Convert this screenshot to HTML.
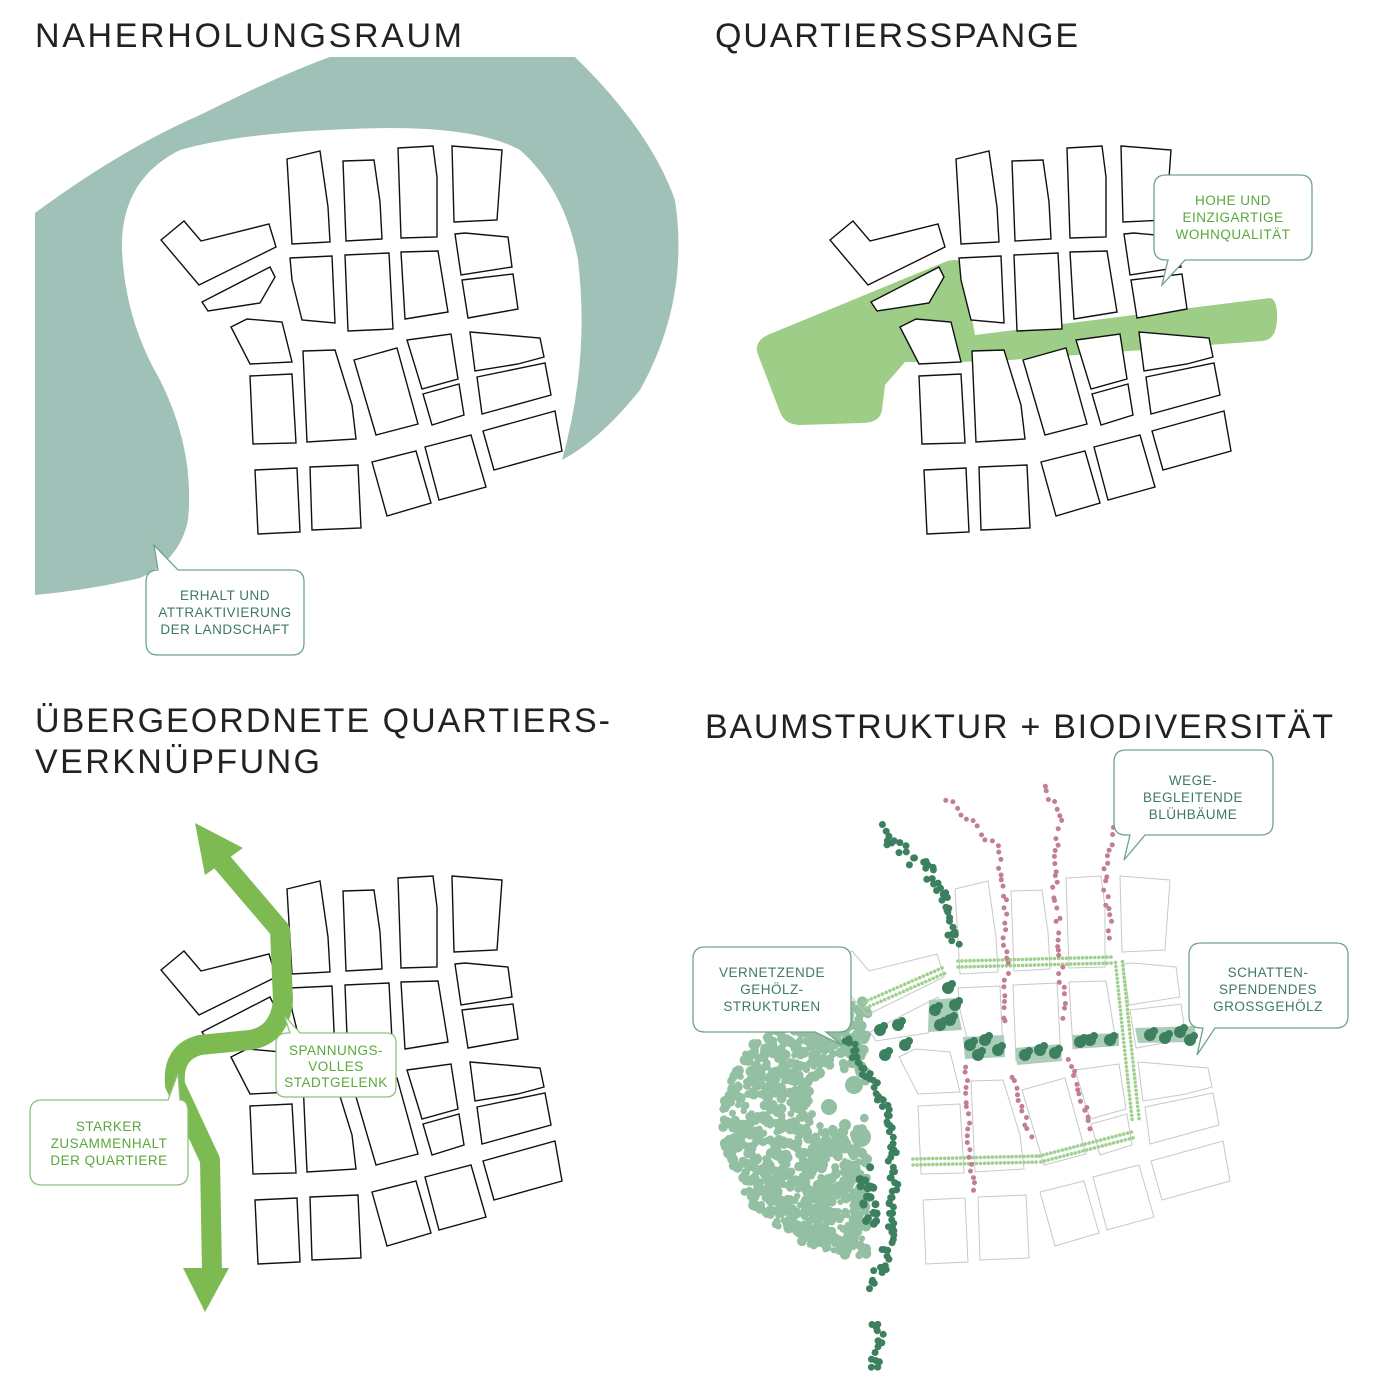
<!DOCTYPE html>
<html><head><meta charset="utf-8"><style>
html,body{margin:0;padding:0;background:#fff}
svg{display:block}
.t{font-family:"Liberation Sans",sans-serif;font-size:34px;fill:#222;font-weight:normal}
.c{font-family:"Liberation Sans",sans-serif;font-size:13.5px;fill:#3d7a62;text-anchor:middle;letter-spacing:0.5px}
.cg{font-family:"Liberation Sans",sans-serif;font-size:13.5px;fill:#5aa83a;text-anchor:middle;letter-spacing:0.5px}
</style></head><body>
<svg id="s" width="1380" height="1380" viewBox="0 0 1380 1380" xmlns="http://www.w3.org/2000/svg">
<defs>
<g id="blk">
<polygon points="287,159 320,151 328,207 330,242 292,244"/>
<polygon points="343,161 374,160 380,202 382,239 346,241"/>
<polygon points="398,148 433,146 437,177 437,237 401,238"/>
<polygon points="452,146 502,150 497,220 454,222"/>
<polygon points="161,240 184,221 201,241 269,224 276,247 199,285"/>
<polygon points="202,302 270,267 275,277 260,303 208,311"/>
<polygon points="290,258 332,256 335,323 302,320 292,280"/>
<polygon points="345,255 389,253 393,329 348,331"/>
<polygon points="401,252 438,251 448,312 405,319"/>
<polygon points="455,234 465,233 508,237 512,267 461,275"/>
<polygon points="462,280 513,274 518,309 468,318"/>
<polygon points="231,327 247,319 282,322 292,362 250,364"/>
<polygon points="303,351 335,350 352,405 356,439 307,442"/>
<polygon points="354,360 397,348 418,424 376,435"/>
<polygon points="407,340 451,334 458,379 422,389"/>
<polygon points="470,332 540,338 544,357 518,364 475,371"/>
<polygon points="423,394 459,384 464,415 432,425"/>
<polygon points="477,377 545,363 551,395 482,414"/>
<polygon points="250,376 292,374 296,443 253,444"/>
<polygon points="255,470 297,468 300,532 258,534"/>
<polygon points="310,467 358,465 361,528 312,530"/>
<polygon points="372,462 416,451 431,503 387,516"/>
<polygon points="425,447 471,435 486,487 439,500"/>
<polygon points="483,431 555,411 562,451 494,470"/>
</g>
</defs>

<!-- TL -->
<path d="M35,213 Q120,150 200,115 Q280,75 330,57 L575,57 Q650,130 675,200 Q690,300 640,390 Q600,440 562,460 Q590,360 578,260 Q565,190 520,150 Q480,128 390,128 Q250,130 180,150 Q120,180 122,250 Q125,320 160,380 Q195,450 188,520 Q180,560 140,578 Q90,590 35,595 Z" fill="#a0c1b8"/>
<use href="#blk" fill="#fff" stroke="#111" stroke-width="1.4"/>
<text class="t" x="35" y="47" textLength="427">NAHERHOLUNGSRAUM</text>

<!-- TR -->
<text class="t" x="715" y="47" textLength="363">QUARTIERSSPANGE</text>
<path d="M757,352 Q755,340 770,334 L945,262 Q955,258 962,262 L975,335 L1270,298 Q1278,300 1277,320 Q1276,340 1262,341 L1010,360 L960,362 L905,362 L885,385 L882,410 Q880,423 862,423 L800,425 Q785,425 780,412 Z" fill="#9dcd87"/>
<use href="#blk" transform="translate(669,0)" fill="#fff" stroke="#111" stroke-width="1.4"/>

<!-- BL -->
<text class="t" x="35" y="732" textLength="575">ÜBERGEORDNETE QUARTIERS-</text>
<text class="t" x="35" y="773" textLength="285">VERKNÜPFUNG</text>
<use href="#blk" transform="translate(0,730)" fill="#fff" stroke="#111" stroke-width="1.4"/>
<path d="M222,862 L280,930 L283,1000 Q280,1035 250,1040 L200,1045 Q172,1052 175,1085 L210,1160 L212,1272" fill="none" stroke="#7dba52" stroke-width="20" stroke-linejoin="round"/>
<polygon points="195,823 243,848 205,875" fill="#7dba52"/>
<polygon points="183,1268 229,1268 205,1312" fill="#7dba52"/>

<!-- BR -->
<text class="t" x="705" y="738" textLength="628">BAUMSTRUKTUR + BIODIVERSITÄT</text>
<g id="dots"></g>
<use href="#blk" transform="translate(668,730)" fill="none" stroke="#c8c8c8" stroke-width="1"/>
<g id="dots2"></g>

<!-- callouts -->
<g fill="#fff" stroke="#6fa487" stroke-width="1.3">
<path d="M158,570 L154,545 L178,570 L292,570 Q304,570 304,582 L304,643 Q304,655 292,655 L158,655 Q146,655 146,643 L146,582 Q146,570 158,570 Z"/>
<path d="M1166,175 L1300,175 Q1312,175 1312,187 L1312,248 Q1312,260 1300,260 L1185,260 L1162,285 L1168,260 L1166,260 Q1154,260 1154,248 L1154,187 Q1154,175 1166,175 Z"/>
<path d="M1126,750 L1261,750 Q1273,750 1273,762 L1273,823 Q1273,835 1261,835 L1145,835 L1124,860 L1130,835 L1126,835 Q1114,835 1114,823 L1114,762 Q1114,750 1126,750 Z"/>
<path d="M705,947 L839,947 Q851,947 851,959 L851,1020 Q851,1032 839,1032 L826,1032 L842,1045 L815,1032 L705,1032 Q693,1032 693,1020 L693,959 Q693,947 705,947 Z"/>
<path d="M1201,943 L1336,943 Q1348,943 1348,955 L1348,1016 Q1348,1028 1336,1028 L1215,1028 L1197,1055 L1203,1028 L1201,1028 Q1189,1028 1189,1016 L1189,955 Q1189,943 1201,943 Z"/>
</g>
<g fill="#fff" stroke="#8cc47a" stroke-width="1.3">
<path d="M42,1100 L168,1100 L178,1073 L180,1100 Q188,1100 188,1112 L188,1173 Q188,1185 176,1185 L42,1185 Q30,1185 30,1173 L30,1112 Q30,1100 42,1100 Z"/>
<path d="M288,1033 L290,1033 L284,1015 L300,1033 L386,1033 Q396,1033 396,1043 L396,1087 Q396,1097 386,1097 L286,1097 Q276,1097 276,1087 L276,1043 Q276,1033 288,1033 Z"/>
</g>
<text class="c" x="225" y="600">ERHALT UND</text><text class="c" x="225" y="617">ATTRAKTIVIERUNG</text><text class="c" x="225" y="634">DER LANDSCHAFT</text>
<text class="cg" x="1233" y="205">HOHE UND</text><text class="cg" x="1233" y="222">EINZIGARTIGE</text><text class="cg" x="1233" y="239">WOHNQUALITÄT</text>
<text class="c" x="1193" y="785">WEGE-</text><text class="c" x="1193" y="802">BEGLEITENDE</text><text class="c" x="1193" y="819">BLÜHBÄUME</text>
<text class="c" x="772" y="977">VERNETZENDE</text><text class="c" x="772" y="994">GEHÖLZ-</text><text class="c" x="772" y="1011">STRUKTUREN</text>
<text class="c" x="1268" y="977">SCHATTEN-</text><text class="c" x="1268" y="994">SPENDENDES</text><text class="c" x="1268" y="1011">GROSSGEHÖLZ</text>
<text class="cg" x="109" y="1131">STARKER</text><text class="cg" x="109" y="1148">ZUSAMMENHALT</text><text class="cg" x="109" y="1165">DER QUARTIERE</text>
<text class="cg" x="336" y="1055">SPANNUNGS-</text><text class="cg" x="336" y="1071">VOLLES</text><text class="cg" x="336" y="1087">STADTGELENK</text>
</svg>
<script>
(function(){
var seed=7;function r(){seed=(seed*16807)%2147483647;return (seed-1)/2147483646;}
var out=[],out2=[];
function c(a,x,y,rad,col){a.push('<circle cx="'+x.toFixed(1)+'" cy="'+y.toFixed(1)+'" r="'+rad+'" fill="'+col+'"/>');}
function line(a,pts,step,jit,rad,col,dbl){
 for(var i=0;i<pts.length-1;i++){var p=pts[i],q=pts[i+1];var dx=q[0]-p[0],dy=q[1]-p[1];var L=Math.sqrt(dx*dx+dy*dy);var n=Math.max(1,Math.round(L/step));
  var nx=-dy/L,ny=dx/L;
  for(var k=0;k<n;k++){var t=k/n;var x=p[0]+dx*t,y=p[1]+dy*t;
   if(dbl){c(a,x+nx*dbl,y+ny*dbl,rad,col);c(a,x-nx*dbl,y-ny*dbl,rad,col);}
   else c(a,x+(r()-0.5)*jit,y+(r()-0.5)*jit,rad,col);}}}
// pale cluster
for(var i=0;i<1500;i++){var x=720+r()*155,y=1000+r()*260;var ex=(x-872)/150,ey=(y-1125)/132;
 if(ex*ex+ey*ey>1)continue;if(x>868)continue;var dx=x-840,dy=y-1100;if(dx*dx+dy*dy<30*30)continue;
 c(out,x,y,3+r()*2.5,'#93bfa2');}
c(out,854,1085,9,'#93bfa2');c(out,829,1107,8,'#93bfa2');c(out,861,1137,10,'#93bfa2');c(out,845,1125,6,'#93bfa2');
// light teal bands
out.push('<polygon points="963,1037 1004,1035 1005,1057 965,1059" fill="#a8cdb8"/><polygon points="1015,1048 1061,1044 1062,1061 1017,1065" fill="#a8cdb8"/><polygon points="1072,1035 1119,1033 1119,1046 1073,1049" fill="#a8cdb8"/><polygon points="1135,1028 1195,1026 1196,1042 1138,1043" fill="#a8cdb8"/><polygon points="929,1000 955,998 962,1030 928,1032" fill="#a8cdb8"/>');
// light green rows
line(out2,[[958,964],[1115,960]],4,0,1.8,'#9fd08e',3);
line(out2,[[865,1005],[947,969]],4,0,1.8,'#9fd08e',3);
line(out2,[[1119,962],[1126,1030],[1136,1123]],4,0,1.8,'#9fd08e',3.5);
line(out2,[[913,1162],[1040,1159],[1136,1134]],4,0,1.8,'#9fd08e',3);
// pink
var P='#c17f90';
line(out2,[[947,798],[997,848],[1004,887],[1006,951],[1006,1030]],7,5,2.5,P);
line(out2,[[965,1066],[969,1144],[976,1198]],7,4,2.5,P);
line(out2,[[1045,785],[1061,816],[1054,869],[1060,951],[1065,1023]],7,6,2.5,P);
line(out2,[[1011,1076],[1033,1141]],6,5,2.5,P);
line(out2,[[1115,823],[1104,869],[1111,944]],7,5,2.5,P);
line(out2,[[1069,1059],[1094,1134]],6,5,2.5,P);
// dark green
var D='#3d8060';
line(out2,[[879,830],[904,851],[929,869],[947,898],[949,923],[954,951]],3.5,12,3.5,D);
line(out2,[[844,1037],[869,1073],[890,1119],[894,1173],[890,1244],[872,1290]],3.2,10,3.5,D);
line(out2,[[865,1173],[872,1226]],2.5,12,4,D);
line(out2,[[872,1320],[882,1345],[872,1375]],4,12,3.5,D);
var big=[[885,1055],[905,1045],[880,1030],[898,1025],[970,1045],[985,1040],[998,1050],[978,1055],[1025,1055],[1040,1050],[1055,1053],[1080,1042],[1090,1040],[1110,1040],[1150,1035],[1165,1038],[1180,1032],[1190,1040],[935,1010],[950,1020],[940,1025],[955,1005],[948,988]];
big.forEach(function(p){c(out2,p[0],p[1],6,D);c(out2,p[0]+4,p[1]-4,4,D);});
document.getElementById('dots').innerHTML=out.join('');
document.getElementById('dots2').innerHTML=out2.join('');
})();
</script>
</body></html>
